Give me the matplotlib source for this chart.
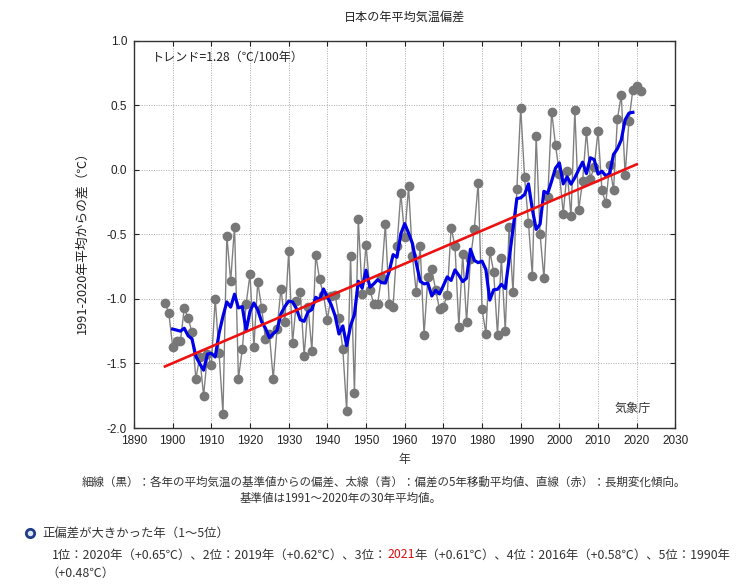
import numpy             as np
import pandas            as pd
import matplotlib
matplotlib.use("Agg")
import matplotlib.pyplot as plt
from matplotlib.lines  import Line2D
from matplotlib.ticker import FormatStrFormatter

plt.rcParams['font.family'] = ['Noto Sans CJK JP', 'DejaVu Sans']
plt.rcParams['axes.unicode_minus'] = False

# annual anomaly from the 1991-2020 mean (deg C)
years = np.arange(1898, 2022)
anom = [-1.03, -1.11, -1.37, -1.33, -1.33, -1.07, -1.15, -1.26, -1.62, -1.45,
        -1.75, -1.43, -1.51, -1.00, -1.42, -1.89, -0.51, -0.86, -0.44, -1.62,
        -1.39, -1.04, -0.81, -1.37, -0.87, -1.07, -1.31, -1.27, -1.62, -1.23,
        -0.92, -1.18, -0.63, -1.34, -1.02, -0.95, -1.44, -1.06, -1.40, -0.66,
        -0.85, -0.97, -1.16, -0.98, -0.97, -1.15, -1.39, -1.87, -0.67, -1.73,
        -0.38, -0.96, -0.58, -0.93, -1.04, -1.04, -0.83, -0.42, -1.04, -1.06,
        -0.59, -0.18, -0.52, -0.13, -0.67, -0.95, -0.59, -1.28, -0.83, -0.77,
        -0.93, -1.08, -1.06, -0.97, -0.45, -0.59, -1.22, -0.65, -1.18, -0.69,
        -0.46, -0.10, -1.08, -1.27, -0.63, -0.79, -1.28, -0.68, -1.25, -0.44,
        -0.95, -0.15,  0.48, -0.06, -0.41, -0.82,  0.26, -0.50, -0.84, -0.21,
         0.45,  0.19, -0.03, -0.34, -0.01, -0.36,  0.46, -0.31, -0.09,  0.30,
        -0.07,  0.02,  0.30, -0.16, -0.26,  0.04, -0.16,  0.39,  0.58, -0.04,
         0.38,  0.62,  0.65,  0.61]

xticks = np.arange(1890, 2031, 10)
yticks = np.arange(-2.0, 1.01, 0.5)

title      = "日本の年平均気温偏差"
ylabel     = "1991-2020年平均からの差（℃）"
trend_text = "トレンド=1.28（℃/100年）"
note1 = "細線（黒）：各年の平均気温の基準値からの偏差、太線（青）：偏差の5年移動平均値、直線（赤）：長期変化傾向。"
note2 = "基準値は1991～2020年の30年平均値。"
head  = "正偏差が大きかった年（1～5位）"
rank_parts = [("1位：2020年（+0.65℃）、2位：2019年（+0.62℃）、3位：", "#333333"),
              ("2021", "#dd1111"),
              ("年（+0.61℃）、4位：2016年（+0.58℃）、5位：1990年", "#333333")]
rank_tail = "（+0.48℃）"

s = pd.Series(anom, index=years)
ma5 = s.rolling(5, center=True).mean()
coef = np.polyfit(years, anom, 1)
tr_years = np.array([1898, 2020])

fig = plt.figure(figsize=(7.38, 5.84), dpi=100)
ax = fig.add_axes([134/738, 1-428/584, (675.4-134)/738, (428-40.5)/584])

ax.plot(years, anom, color="#808080", lw=1.0, marker="o", ms=6,
        mfc="#777777", mec="#777777", zorder=2)
ax.plot(ma5.index, ma5.values, color="#0000e6", lw=2.3, zorder=3)
ax.plot(tr_years, np.polyval(coef, tr_years), color="#ee1111", lw=1.9, zorder=4)

ax.set_xlim(1890, 2030)
ax.set_ylim(-2.0, 1.0)
ax.set_xticks(xticks)
ax.set_yticks(yticks)
ax.yaxis.set_major_formatter(FormatStrFormatter('%.1f'))
ax.tick_params(direction="in", top=True, right=True, length=3.5, width=0.8,
               labelsize=8.5, colors="#222222", pad=5)
for lab in ax.get_xticklabels() + ax.get_yticklabels():
    lab.set_family(['Liberation Sans', 'DejaVu Sans'])
ax.grid(True, ls=(0, (1, 1.5)), color="#aaaaaa", lw=0.7)
for sp in ax.spines.values():
    sp.set_color("#333333")
    sp.set_linewidth(1.0)

ax.text(0.033, 0.955, trend_text, transform=ax.transAxes, fontsize=8.7,
        va="center", ha="left", color="#222222")
ax.text(0.955, 0.05, "気象庁", transform=ax.transAxes, fontsize=8.7,
        va="center", ha="right", color="#333333")

fig.text(404/738, 1-17/584, title, ha="center", va="center", fontsize=8.7,
         color="#222222")
fig.text(82/738, 1-240/584, ylabel, ha="center", va="center", rotation=90,
         fontsize=9.2, color="#222222")
fig.text(404/738, 1-459/584, "年", ha="center", va="center", fontsize=8.5,
         color="#333333")

fig.text(384/738, 1-482/584, note1, ha="center", va="center", fontsize=8.3,
         color="#333333")
fig.text(341/738, 1-498/584, note2, ha="center", va="center", fontsize=8.3,
         color="#333333")

# bullet and heading
fig.add_artist(Line2D([30/738], [1-533/584], marker="o", ms=6, mfc="#dde6f5",
                      mec="#1f3c88", mew=2.0, transform=fig.transFigure))
fig.text(42/738, 1-533/584, head, ha="left", va="center", fontsize=8.9,
         color="#333333")

# ranking line with one red year
renderer = fig.canvas.get_renderer()
xpos = 52/738
for txt, col in rank_parts:
    t = fig.text(xpos, 1-555/584, txt, ha="left", va="center", fontsize=8.9,
                 color=col)
    bb = t.get_window_extent(renderer=renderer)
    xpos = bb.x1 / fig.bbox.width
fig.text(46/738, 1-573/584, rank_tail, ha="left", va="center", fontsize=8.9,
         color="#333333")

fig.savefig("out.png", dpi=100)
